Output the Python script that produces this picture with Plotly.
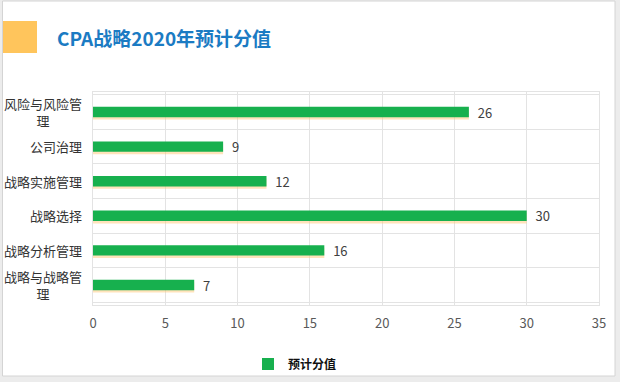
import plotly.graph_objects as go

# Data (bottom to top)
categories = ["战略与战略管理", "战略分析管理", "战略选择", "战略实施管理", "公司治理", "风险与风险管理"]
axis_labels = ["战略与战略管<br>理", "战略分析管理", "战略选择", "战略实施管理", "公司治理", "风险与风险管<br>理"]
values = [7, 16, 30, 12, 9, 26]
series_name = "预计分值"
x_ticks = [0, 5, 10, 15, 20, 25, 30, 35]
title_text = "CPA战略2020年预计分值"

FONT = "Noto Sans CJK SC, Microsoft YaHei, sans-serif"
GREEN = "#17b04e"
GRID = "#e3e3e3"

fig = go.Figure()

# soft orange shadow under each bar
fig.add_trace(go.Bar(
    x=values, y=categories, orientation="h",
    width=0.3, offset=-0.22,
    marker=dict(color="rgba(255,200,120,0.5)", line=dict(width=0)),
    hoverinfo="skip", showlegend=False,
))
fig.add_trace(go.Bar(
    x=values, y=categories, orientation="h", name=series_name,
    width=0.3, offset=-0.15,
    marker=dict(color=GREEN, line=dict(width=0)),
    text=values, texttemplate="  %{x}", textposition="outside",
    constraintext="none",
    textfont=dict(family=FONT, size=13, color="#404040"),
    cliponaxis=False,
))

# category labels (centered multi-line, right-anchored block)
for cat, lab in zip(categories, axis_labels):
    fig.add_annotation(
        x=0, xref="paper", y=cat, yref="y", xanchor="right", yanchor="middle",
        xshift=-9, text=lab, showarrow=False, align="center",
        font=dict(family=FONT, size=13, color="#333333"),
    )

W = 506.0
H = 213.0
def px(x): return (x - 93) / W
def py(y): return (305 - y) / H

# title
fig.add_annotation(
    x=px(55), xref="paper", y=py(38), yref="paper",
    xanchor="left", yanchor="middle", text="<b>" + title_text + "</b>",
    showarrow=False, font=dict(family=FONT, size=19, color="#1b7bc3"),
)

shapes = [
    # outer grey band
    dict(type="rect", xref="paper", yref="paper", x0=px(0), x1=px(620), y0=py(382), y1=py(0),
         fillcolor="#ececec", line=dict(width=0), layer="below"),
    # white card with border
    dict(type="rect", xref="paper", yref="paper", x0=px(2.5), x1=px(615), y0=py(376), y1=py(1),
         fillcolor="white", line=dict(color="#d4d4d4", width=1), layer="below"),
    # orange accent block
    dict(type="rect", xref="paper", yref="paper", x0=px(3), x1=px(37), y0=py(53), y1=py(21),
         fillcolor="#ffc55c", line=dict(width=0), layer="below"),
]

fig.update_layout(
    width=620, height=382,
    margin=dict(l=93, r=21, t=92, b=77, autoexpand=False),
    paper_bgcolor="white", plot_bgcolor="rgba(0,0,0,0)",
    barmode="overlay",
    shapes=shapes,
    font=dict(family=FONT),
    showlegend=True,
    legend=dict(
        orientation="h", x=px(295), y=py(364), xanchor="center", yanchor="middle",
        font=dict(family=FONT, size=12, color="#111111", weight="bold"),
        bgcolor="rgba(0,0,0,0)",
    ),
    xaxis=dict(
        range=[0, 35], tickvals=x_ticks, showgrid=True, gridcolor=GRID, gridwidth=1,
        zeroline=False, showline=True, linecolor=GRID, mirror=True,
        ticks="outside", ticklen=6, tickcolor="rgba(0,0,0,0)",
        tickfont=dict(family=FONT, size=13, color="#595959"),
        fixedrange=True, automargin=False,
    ),
    yaxis=dict(
        type="category", categoryorder="array", categoryarray=categories,
        showticklabels=False, tickson="boundaries", ticks="",
        showgrid=True, gridcolor=GRID, gridwidth=1,
        showline=True, linecolor=GRID, mirror=True, zeroline=False,
        fixedrange=True, automargin=False,
    ),
)

fig.write_html(
    "out.html",
    config={"displayModeBar": False},
    post_script="document.body.style.margin='0';document.body.style.overflow='hidden';",
)
